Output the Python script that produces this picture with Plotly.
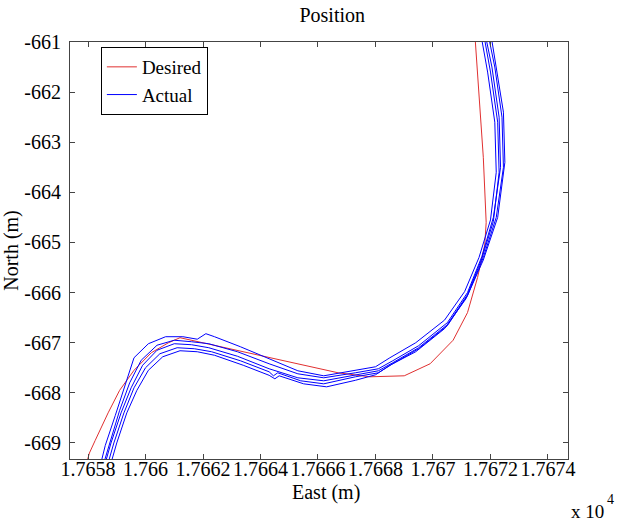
import plotly.graph_objects as go

# ---- Data (East in m, North in m) ----
desired_east = [17657.95, 17658.05, 17658.25, 17658.7, 17659.1, 17659.6, 17660.2, 17660.8, 17661.2,
                17661.6, 17662.2, 17663.2, 17664.3, 17665.5, 17666.7, 17667.8, 17669.0, 17669.9,
                17670.7, 17671.2, 17671.55, 17671.8, 17671.85, 17671.75, 17671.6, 17671.45]
desired_north = [-669.4, -669.2, -668.95, -668.4, -667.95, -667.55, -667.2, -667.0, -666.9,
                 -666.95, -667.03, -667.15, -667.3, -667.45, -667.6, -667.68, -667.66, -667.42,
                 -666.95, -666.4, -665.7, -665.05, -664.6, -663.3, -662.0, -660.8]

run1_east = [17658.45, 17658.6, 17658.95, 17659.3, 17659.6, 17660.1, 17660.7, 17661.3, 17661.8, 17662.1,
             17662.4, 17663.3, 17664.3, 17665.3, 17666.2, 17667.2, 17668.0, 17668.5, 17669.4, 17670.4,
             17671.1, 17671.6, 17672.0, 17672.2, 17672.15, 17671.9, 17671.65]
run1_north = [-669.4, -669.05, -668.45, -667.85, -667.3, -667.02, -666.88, -666.88, -666.93, -666.82,
              -666.88, -667.08, -667.32, -667.56, -667.66, -667.56, -667.48, -667.3, -667.0, -666.55,
              -665.98, -665.3, -664.55, -663.6, -662.6, -661.6, -660.8]

run2_east = [17658.55, 17658.75, 17659.1, 17659.45, 17659.85, 17660.4, 17661.0, 17661.6, 17662.2, 17663.2,
             17664.3, 17665.3, 17666.2, 17667.3, 17668.1, 17668.6, 17669.5, 17670.5, 17671.2, 17671.7,
             17672.1, 17672.35, 17672.3, 17672.05, 17671.8]
run2_north = [-669.4, -669.0, -668.35, -667.8, -667.35, -667.05, -666.95, -666.98, -667.02, -667.18,
              -667.42, -667.62, -667.7, -667.6, -667.52, -667.36, -667.06, -666.6, -666.0, -665.28,
              -664.5, -663.5, -662.5, -661.5, -660.8]

run3_east = [17658.6, 17658.8, 17659.15, 17659.5, 17659.9, 17660.4, 17661.0, 17661.6, 17662.2, 17663.2,
             17664.3, 17665.3, 17666.2, 17667.3, 17668.1, 17668.6, 17669.5, 17670.5, 17671.2, 17671.7,
             17672.1, 17672.3, 17672.25, 17672.0, 17671.75]
run3_north = [-669.4, -669.0, -668.4, -667.9, -667.45, -667.15, -667.02, -667.04, -667.1, -667.27,
              -667.52, -667.7, -667.76, -667.64, -667.56, -667.4, -667.1, -666.64, -666.04, -665.32,
              -664.58, -663.6, -662.6, -661.6, -660.8]

run4_east = [17658.7, 17658.9, 17659.25, 17659.6, 17660.0, 17660.5, 17661.1, 17661.7, 17662.3, 17663.3,
             17664.3, 17664.45, 17664.6, 17665.4, 17666.2, 17667.3, 17668.1, 17668.6, 17669.5, 17670.5,
             17671.2, 17671.75, 17672.2, 17672.45, 17672.4, 17672.15, 17671.9]
run4_north = [-669.4, -669.0, -668.4, -667.9, -667.5, -667.22, -667.1, -667.12, -667.18, -667.36,
              -667.58, -667.66, -667.6, -667.76, -667.82, -667.68, -667.6, -667.42, -667.12, -666.66,
              -666.06, -665.3, -664.5, -663.5, -662.5, -661.5, -660.8]

run5_east = [17658.8, 17659.0, 17659.35, 17659.7, 17660.1, 17660.6, 17661.2, 17661.8, 17662.4, 17663.4,
             17664.3, 17664.5, 17664.65, 17665.5, 17666.3, 17667.3, 17668.0, 17668.5, 17669.4, 17670.4,
             17671.15, 17671.75, 17672.25, 17672.5, 17672.45, 17672.2, 17672.0]
run5_north = [-669.4, -669.0, -668.4, -667.95, -667.55, -667.28, -667.16, -667.18, -667.25, -667.45,
              -667.65, -667.72, -667.66, -667.82, -667.88, -667.75, -667.64, -667.45, -667.18, -666.72,
              -666.12, -665.35, -664.5, -663.4, -662.4, -661.5, -660.8]

x_tickvals = [17658, 17660, 17662, 17664, 17666, 17668, 17670, 17672, 17674]
x_ticktext = ["1.7658", "1.766", "1.7662", "1.7664", "1.7666", "1.7668", "1.767", "1.7672", "1.7674"]
y_tickvals = [-661, -662, -663, -664, -665, -666, -667, -668, -669]
y_ticktext = ["-661", "-662", "-663", "-664", "-665", "-666", "-667", "-668", "-669"]

FONT = "Liberation Serif"
RED = "#e03030"
BLUE = "#0000ff"
FS = 20

fig = go.Figure()
fig.add_trace(go.Scatter(x=desired_east, y=desired_north, mode="lines", name="Desired",
                         line=dict(color=RED, width=1)))
runs = [(run1_east, run1_north), (run2_east, run2_north), (run3_east, run3_north),
        (run4_east, run4_north), (run5_east, run5_north)]
for i, (rx, ry) in enumerate(runs):
    fig.add_trace(go.Scatter(x=rx, y=ry, mode="lines", name="Actual", legendgroup="actual",
                             showlegend=(i == 0), line=dict(color=BLUE, width=1)))

axis_common = dict(showline=True, mirror="ticks", linecolor="#444444", linewidth=1,
                   ticks="inside", ticklen=5, tickcolor="#444444", showgrid=False, zeroline=False,
                   automargin=False, tickfont=dict(family=FONT, size=FS, color="black"))

fig.update_layout(
    width=621, height=521,
    margin=dict(l=70, r=53, t=42, b=62),
    paper_bgcolor="white", plot_bgcolor="white",
    font=dict(family=FONT, size=FS, color="black"),
    title=dict(text="Position", x=0.535, xanchor="center", y=0.971, yanchor="middle",
               font=dict(family=FONT, size=FS)),
    xaxis=dict(range=[17657.374, 17674.696], tickvals=x_tickvals, ticktext=x_ticktext,
               tickangle=0, ticklabelstandoff=-8, **axis_common),
    yaxis=dict(range=[-669.32, -661.0], tickvals=y_tickvals, ticktext=y_ticktext,
               ticklabelstandoff=4,
               title=dict(text="North (m)", font=dict(family=FONT, size=FS), standoff=3),
               **axis_common),
    showlegend=True,
    legend=dict(x=0.062, y=0.988, xanchor="left", yanchor="top",
                bgcolor="white", bordercolor="black", borderwidth=1,
                font=dict(family=FONT, size=19), tracegroupgap=0),
    annotations=[
        dict(text="East (m)", xref="paper", yref="paper", x=0.515, y=-0.08,
             xanchor="center", yanchor="middle", showarrow=False,
             font=dict(family=FONT, size=FS)),
        dict(text="x 10", xref="paper", yref="paper", x=1.074, y=-0.127,
             xanchor="right", yanchor="middle", showarrow=False, borderpad=0,
             font=dict(family=FONT, size=FS - 1)),
        dict(text="4", xref="paper", yref="paper", x=1.076, y=-0.098,
             xanchor="left", yanchor="middle", showarrow=False, borderpad=0,
             font=dict(family=FONT, size=14)),
    ],
)

fig.write_html("out.html", post_script="document.body.style.margin='0px';",
               config={"displayModeBar": False})
